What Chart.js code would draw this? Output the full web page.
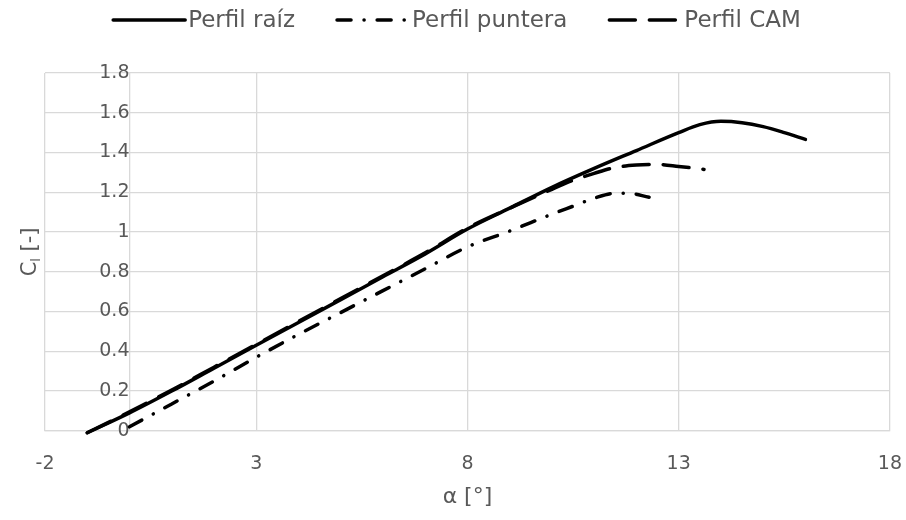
<!DOCTYPE html>
<html>
<head>
<meta charset="utf-8">
<script src="https://cdn.jsdelivr.net/npm/chart.js@4/dist/chart.umd.min.js"></script>
<style>
  html, body { margin: 0; padding: 0; background: #ffffff; }
  #wrap { width: 906px; height: 520px; position: relative; }
</style>
</head>
<body>
<div id="wrap"><canvas id="c" width="906" height="520"></canvas></div>
<script>
// ---- data ----
const seriesNames = ['Perfil raíz', 'Perfil puntera', 'Perfil CAM'];

const raizAlpha = [-1, 0, 1, 2, 3, 4, 5, 6, 7, 8, 9, 10, 11, 12, 13, 13.5, 14, 14.5, 15, 15.5, 16];
const raizCl    = [-0.01, 0.09, 0.2, 0.315, 0.43, 0.545, 0.66, 0.775, 0.89, 1.015, 1.12, 1.225, 1.32, 1.41, 1.5, 1.54, 1.557, 1.55, 1.53, 1.5, 1.466];

const punteraAlpha = [0, 1, 2, 3, 4, 5, 6, 7, 8, 9, 10, 10.5, 11, 11.5, 11.8, 12.3];
const punteraCl    = [0.02, 0.135, 0.25, 0.37, 0.485, 0.595, 0.705, 0.815, 0.925, 1.005, 1.09, 1.13, 1.17, 1.195, 1.195, 1.175];

const camAlpha = [-1, 0, 1, 2, 3, 4, 5, 6, 7, 8, 9, 10, 10.5, 11, 11.5, 12, 12.5, 13, 13.6];
const camCl    = [-0.01, 0.095, 0.205, 0.32, 0.435, 0.55, 0.665, 0.78, 0.895, 1.02, 1.12, 1.215, 1.26, 1.295, 1.325, 1.337, 1.34, 1.33, 1.315];

const xTicks = [-2, 3, 8, 13, 18];
const yTicks = [0, 0.2, 0.4, 0.6, 0.8, 1, 1.2, 1.4, 1.6, 1.8];

const xTitle = 'α [°]';
const yTitleMain = 'C';
const yTitleSub = 'l';
const yTitleRest = ' [-]';

// ---- styling ----
const GRID = '#d9d9d9';
const TXT = '#595959';
const FONT = '"DejaVu Sans", sans-serif';

function pts(xs, ys) { return xs.map((x, i) => ({ x: x, y: ys[i] })); }

const common = {
  borderColor: '#000000',
  backgroundColor: '#000000',
  borderWidth: 3.5,
  pointRadius: 0,
  pointHoverRadius: 0,
  cubicInterpolationMode: 'monotone',
  borderCapStyle: 'round',
  borderJoinStyle: 'round',
  fill: false,
  clip: false
};

const yTitlePlugin = {
  id: 'yTitle',
  afterDraw(chart) {
    const ctx = chart.ctx;
    const a = chart.chartArea;
    ctx.save();
    ctx.translate(31, (a.top + a.bottom) / 2);
    ctx.rotate(-Math.PI / 2);
    ctx.fillStyle = TXT;
    ctx.textBaseline = 'middle';
    const f1 = '21px ' + FONT;
    const f2 = '13px ' + FONT;
    ctx.font = f1;
    const w1 = ctx.measureText(yTitleMain).width;
    const w3 = ctx.measureText(yTitleRest).width;
    ctx.font = f2;
    const w2 = ctx.measureText(yTitleSub).width;
    let x = -(w1 + w2 + w3) / 2;
    ctx.textAlign = 'left';
    ctx.font = f1;
    ctx.fillText(yTitleMain, x, 0);
    x += w1;
    ctx.font = f2;
    ctx.fillText(yTitleSub, x, 6);
    x += w2;
    ctx.font = f1;
    ctx.fillText(yTitleRest, x, 0);
    ctx.restore();
  }
};

// legend drawn as a row of line samples + labels at the top
const legendPlugin = {
  id: 'topLegend',
  afterDraw(chart) {
    const ctx = chart.ctx;
    const ds = chart.data.datasets;
    const markW = 72, gap = 3, spacing = 42, baseY = 27, lineY = 20;
    ctx.save();
    ctx.font = '23px ' + FONT;
    const widths = ds.map(d => ctx.measureText(d.label).width);
    let total = 0;
    widths.forEach((w, i) => { total += markW + gap + w + (i < widths.length - 1 ? spacing : 0); });
    let x = 457 - total / 2;
    ds.forEach((d, i) => {
      ctx.beginPath();
      ctx.setLineDash(d.borderDash || []);
      ctx.lineCap = 'round';
      ctx.lineWidth = d.borderWidth;
      ctx.strokeStyle = d.borderColor;
      ctx.moveTo(x, lineY);
      ctx.lineTo(x + markW, lineY);
      ctx.stroke();
      ctx.setLineDash([]);
      x += markW + gap;
      ctx.fillStyle = TXT;
      ctx.textAlign = 'left';
      ctx.textBaseline = 'alphabetic';
      ctx.fillText(d.label, x, baseY);
      x += widths[i] + spacing;
    });
    ctx.restore();
  }
};

new Chart(document.getElementById('c'), {
  type: 'line',
  data: {
    datasets: [
      Object.assign({ label: seriesNames[0], data: pts(raizAlpha, raizCl), borderDash: [] }, common),
      Object.assign({ label: seriesNames[1], data: pts(punteraAlpha, punteraCl), borderDash: [14, 13, 0.1, 13] }, common),
      Object.assign({ label: seriesNames[2], data: pts(camAlpha, camCl), borderDash: [26, 14] }, common)
    ]
  },
  options: {
    responsive: false,
    animation: false,
    devicePixelRatio: 1,
    layout: { padding: { left: 45, right: 15, top: 73, bottom: 6 } },
    plugins: {
      tooltip: { enabled: false },
      legend: { display: false }
    },
    scales: {
      x: {
        type: 'linear',
        min: -2,
        max: 18,
        afterBuildTicks(scale) { scale.ticks = xTicks.map(v => ({ value: v })); },
        grid: { color: GRID, lineWidth: 1.3, drawTicks: true, tickLength: 18, tickColor: 'rgba(0,0,0,0)' },
        border: { display: true, color: GRID, width: 1.3 },
        ticks: { color: TXT, font: { family: FONT, size: 19 }, padding: 4, maxRotation: 0, autoSkip: false,
                 callback: (v) => String(v) },
        title: { display: true, text: xTitle, color: TXT, font: { family: FONT, size: 22 },
                 padding: { top: 4, bottom: 4 } }
      },
      y: {
        type: 'linear',
        position: { x: 0 },
        min: 0,
        max: 1.8,
        afterBuildTicks(scale) { scale.ticks = yTicks.map(v => ({ value: v })); },
        grid: { color: GRID, lineWidth: 1.3, drawTicks: false },
        border: { display: true, color: GRID, width: 1.3 },
        ticks: { color: TXT, font: { family: FONT, size: 19 }, padding: 22, autoSkip: false,
                 callback: (v) => String(+Number(v).toFixed(1)) }
      }
    }
  },
  plugins: [yTitlePlugin, legendPlugin]
});
</script>
</body>
</html>
